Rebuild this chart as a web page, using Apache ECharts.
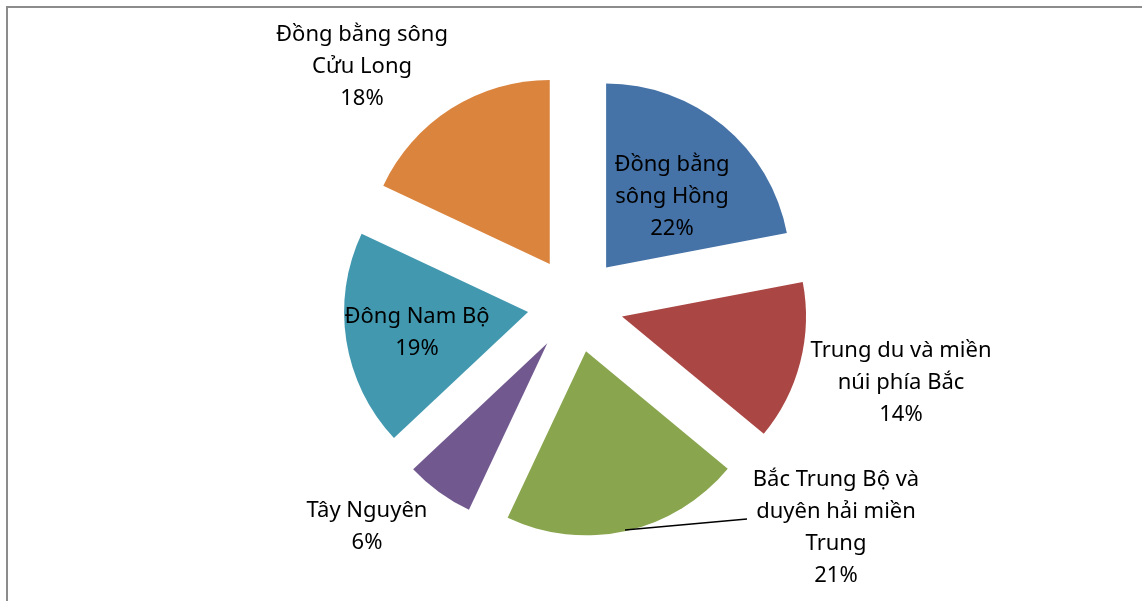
<!DOCTYPE html>
<html>
<head>
<meta charset="utf-8">
<script src="https://cdn.jsdelivr.net/npm/echarts@6/dist/echarts.min.js"></script>
<style>
  html, body { margin: 0; padding: 0; background: #fff; }
  #chart { width: 1142px; height: 601px; }
</style>
</head>
<body>
<div id="chart"></div>
<script>
// Regions, clockwise from 12 o'clock
const regions = [
  'Đồng bằng\nsông Hồng',
  'Trung du và miền\nnúi phía Bắc',
  'Bắc Trung Bộ và\nduyên hải miền\nTrung',
  'Tây Nguyên',
  'Đông Nam Bộ',
  'Đồng bằng sông\nCửu Long'
];
const shares = [22, 14, 21, 6, 19, 18];
const colors = ['#4572A7', '#AA4643', '#89A54E', '#71588F', '#4198AF', '#DB843D'];

// Centre of each label's text block, by slice index
const labelPos = [
  [672, 197],
  [901, 383],
  [836, 528],
  [367, 527],
  [417, 333],
  [362, 67]
];
// Leader line for the Bắc Trung Bộ label
const leader = [[625, 530], [747, 519]];

const FONT_FAMILY = '"Noto Sans", sans-serif';
const FONT_SIZE = 22;
const LINE_H = 32;

const labelText = i => regions[i] + '\n' + shares[i] + '%';

const data = regions.map((name, i) => ({
  name: name,
  value: shares[i],
  selected: true,
  itemStyle: { color: colors[i] }
}));

const graphics = [{
  type: 'rect',
  shape: { x: 7, y: 7, width: 1300, height: 800 },
  style: { fill: null, stroke: '#8c8c8c', lineWidth: 2 },
  silent: true,
  z: 0
}];

labelPos.forEach((p, i) => {
  graphics.push({
    type: 'text',
    x: p[0],
    y: p[1],
    silent: true,
    z: 10,
    style: {
      text: labelText(i),
      fontFamily: FONT_FAMILY,
      fontSize: FONT_SIZE,
      lineHeight: LINE_H,
      fill: '#000',
      align: 'center',
      verticalAlign: 'middle'
    }
  });
});

graphics.push({
  type: 'polyline',
  silent: true,
  z: 10,
  shape: { points: leader },
  style: { stroke: '#000', lineWidth: 1.5, fill: null }
});

const chart = echarts.init(document.getElementById('chart'), null, { renderer: 'canvas' });
chart.setOption({
  animation: false,
  backgroundColor: '#fff',
  graphic: graphics,
  series: [{
    type: 'pie',
    center: [575.5, 304.5],
    radius: [0, 184],
    startAngle: 90,
    clockwise: true,
    selectedMode: 'multiple',
    selectedOffset: 48,
    emphasis: { disabled: true },
    label: { show: false },
    labelLine: { show: false },
    data: data
  }]
});
</script>
</body>
</html>
